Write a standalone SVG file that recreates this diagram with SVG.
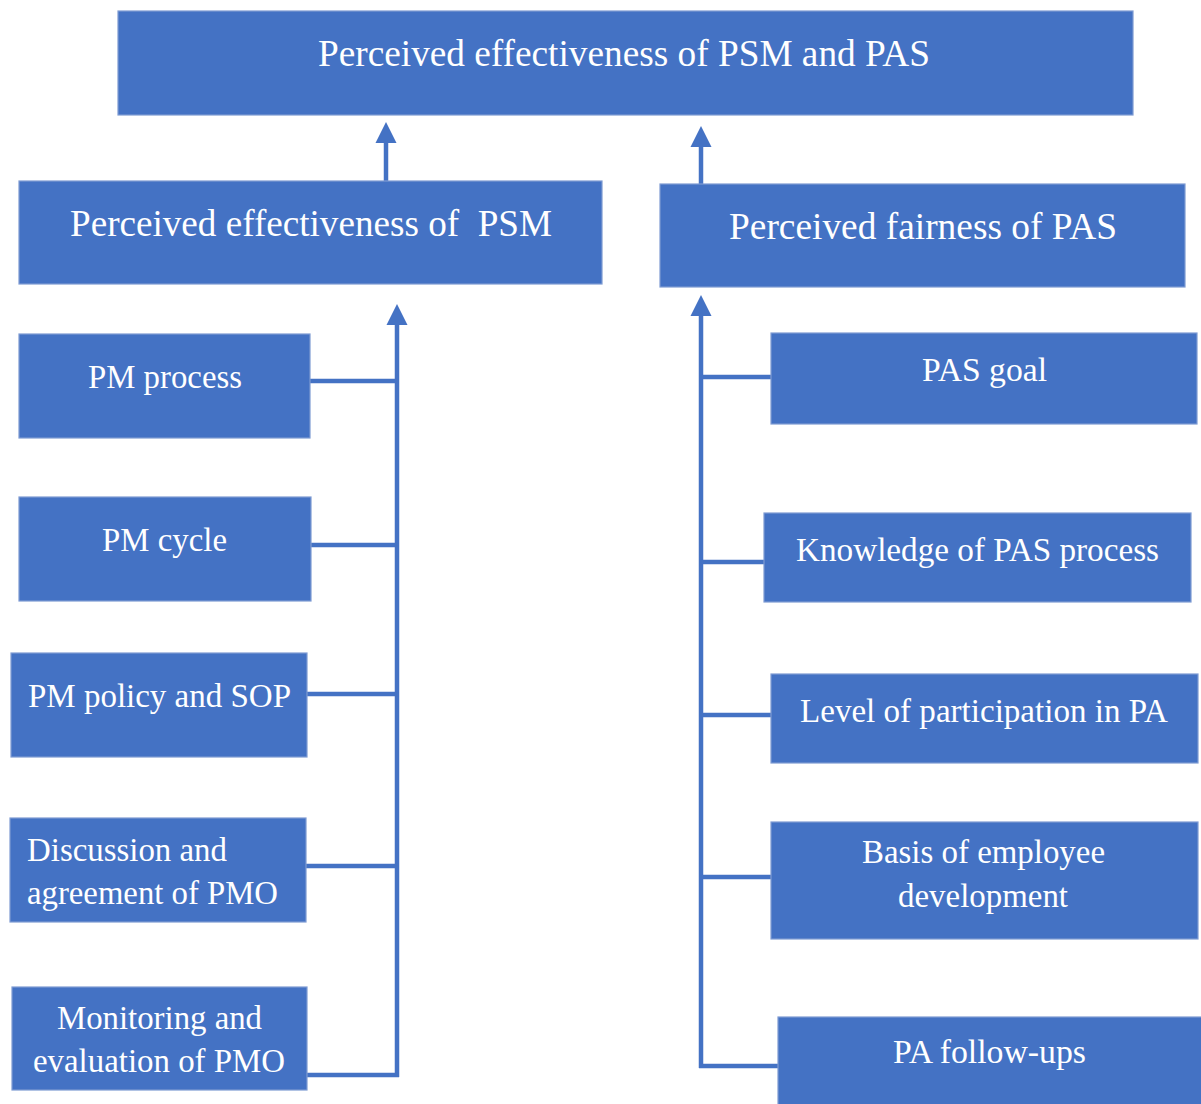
<svg xmlns="http://www.w3.org/2000/svg" width="1201" height="1104" viewBox="0 0 1201 1104">
<style>
.box{fill:#4472C4;stroke:#7e9bd3;stroke-width:1.2}
.t{font-family:"Liberation Serif","Times New Roman",serif;fill:#ffffff;text-anchor:middle}
.big{font-size:38px}
.sm{font-size:33px}
.ln{stroke:#4472C4;stroke-width:4.5;fill:none}
</style>
<defs>
<marker id="ah" viewBox="0 0 20 20" refX="0" refY="10" markerWidth="21" markerHeight="22" markerUnits="userSpaceOnUse" orient="auto">
<path d="M0,0 L20,10 L0,20 z" fill="#4472C4"/>
</marker>
</defs>
<rect width="1201" height="1104" fill="#ffffff"/>
<g id="connectors">
<line class="ln" x1="386" y1="182" x2="386" y2="143" marker-end="url(#ah)"/>
<line class="ln" x1="701" y1="185" x2="701" y2="147" marker-end="url(#ah)"/>
<line class="ln" x1="397" y1="1077" x2="397" y2="325" marker-end="url(#ah)"/>
<line class="ln" x1="701" y1="1068" x2="701" y2="316" marker-end="url(#ah)"/>
<line class="ln" x1="310" y1="381" x2="397" y2="381"/>
<line class="ln" x1="311" y1="545" x2="397" y2="545"/>
<line class="ln" x1="307" y1="694" x2="397" y2="694"/>
<line class="ln" x1="305" y1="866" x2="397" y2="866"/>
<line class="ln" x1="307" y1="1075" x2="399" y2="1075"/>
<line class="ln" x1="701" y1="377" x2="771" y2="377"/>
<line class="ln" x1="701" y1="562" x2="765" y2="562"/>
<line class="ln" x1="701" y1="715" x2="771" y2="715"/>
<line class="ln" x1="701" y1="877" x2="771" y2="877"/>
<line class="ln" x1="699" y1="1066" x2="778" y2="1066"/>
</g>
<g id="root">
<rect class="box" x="118" y="11" width="1015" height="104"/>
<text class="t big" x="624" y="66" textLength="612" lengthAdjust="spacingAndGlyphs">Perceived effectiveness of PSM and PAS</text>
</g>
<g id="psm">
<rect class="box" x="19" y="181" width="583" height="103"/>
<text class="t big" x="311" y="236" textLength="482" lengthAdjust="spacingAndGlyphs" xml:space="preserve">Perceived effectiveness of  PSM</text>
</g>
<g id="pas">
<rect class="box" x="660" y="184" width="525" height="103"/>
<text class="t big" x="923" y="239" textLength="388" lengthAdjust="spacingAndGlyphs">Perceived fairness of PAS</text>
</g>
<g id="pm-process">
<rect class="box" x="19" y="334" width="291" height="104"/>
<text class="t sm" x="165" y="388" textLength="154" lengthAdjust="spacingAndGlyphs">PM process</text>
</g>
<g id="pm-cycle">
<rect class="box" x="19" y="497" width="292" height="104"/>
<text class="t sm" x="164.5" y="551" textLength="125" lengthAdjust="spacingAndGlyphs">PM cycle</text>
</g>
<g id="pm-policy">
<rect class="box" x="11" y="653" width="296" height="104"/>
<text class="t sm" x="159.5" y="707" textLength="263" lengthAdjust="spacingAndGlyphs">PM policy and SOP</text>
</g>
<g id="discussion">
<rect class="box" x="10" y="818" width="296" height="104"/>
<text class="t sm" x="27" y="861" style="text-anchor:start" textLength="200" lengthAdjust="spacingAndGlyphs">Discussion and</text>
<text class="t sm" x="27" y="904" style="text-anchor:start" textLength="251" lengthAdjust="spacingAndGlyphs">agreement of PMO</text>
</g>
<g id="monitoring">
<rect class="box" x="12" y="987" width="295" height="103"/>
<text class="t sm" x="159.5" y="1029" textLength="205" lengthAdjust="spacingAndGlyphs">Monitoring and</text>
<text class="t sm" x="159" y="1072" textLength="252" lengthAdjust="spacingAndGlyphs">evaluation of PMO</text>
</g>
<g id="pas-goal">
<rect class="box" x="771" y="333" width="426" height="91"/>
<text class="t sm" x="984.5" y="381" textLength="125" lengthAdjust="spacingAndGlyphs">PAS goal</text>
</g>
<g id="knowledge">
<rect class="box" x="764" y="513" width="427" height="89"/>
<text class="t sm" x="977.5" y="561" textLength="363" lengthAdjust="spacingAndGlyphs">Knowledge of PAS process</text>
</g>
<g id="participation">
<rect class="box" x="771" y="674" width="427" height="89"/>
<text class="t sm" x="984" y="722" textLength="368" lengthAdjust="spacingAndGlyphs">Level of participation in PA</text>
</g>
<g id="basis">
<rect class="box" x="771" y="822" width="427" height="117"/>
<text class="t sm" x="983.5" y="863" textLength="243" lengthAdjust="spacingAndGlyphs">Basis of employee</text>
<text class="t sm" x="983" y="907" textLength="170" lengthAdjust="spacingAndGlyphs">development</text>
</g>
<g id="followups">
<rect class="box" x="778" y="1017" width="430" height="95"/>
<text class="t sm" x="989.5" y="1063" textLength="193" lengthAdjust="spacingAndGlyphs">PA follow-ups</text>
</g>
</svg>
